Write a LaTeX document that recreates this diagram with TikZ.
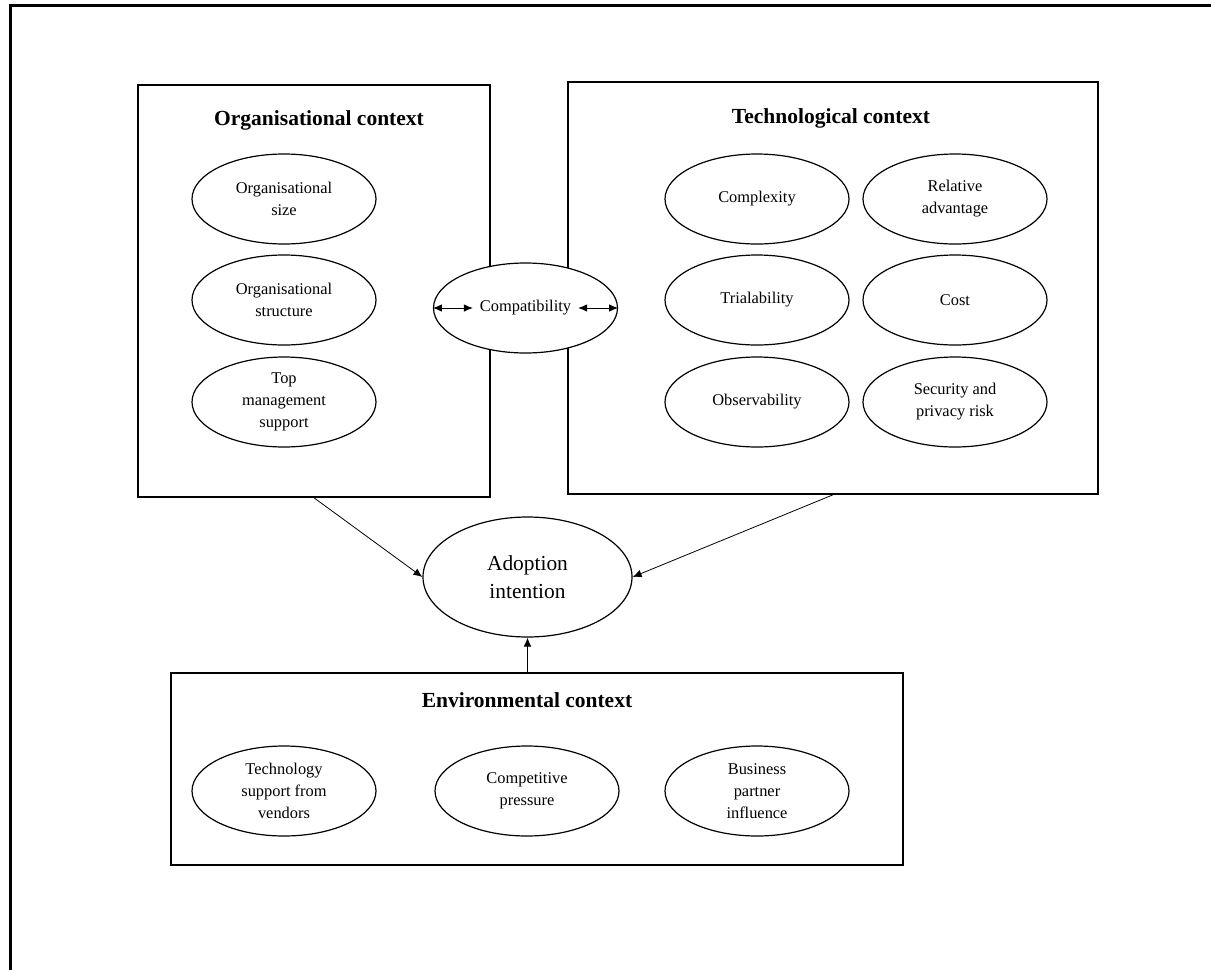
\documentclass[tikz,border=0pt]{standalone}
\usepackage{fontspec}
\setmainfont{Liberation Serif}
\usetikzlibrary{shapes.geometric,arrows.meta,positioning}

\begin{document}
\begin{tikzpicture}[x=0.5pt,y=-0.5pt,>={Latex[length=4.5pt,width=3.8pt]},
  ctxbox/.style={draw,line width=0.8pt,minimum height=206pt,inner sep=0pt},
  oval/.style={draw,ellipse,fill=white,line width=0.6pt,minimum width=92pt,minimum height=45pt,inner sep=0pt,align=center,font=\fontsize{8.2}{11}\selectfont},
  ctxtitle/.style={font=\fontsize{10.75}{13}\selectfont\bfseries},
  link/.style={->,line width=0.4pt}]
  \useasboundingbox (0,0) rectangle (1211,970);
  % cornice esterna (solo lato sinistro e superiore)
  \draw[line width=1.3pt] (10.5,970) -- (10.5,5.5) -- (1211,5.5);
  % riquadri dei contesti
  \node[ctxbox,minimum width=176pt] (org) at (314,291) {};
  \node[ctxbox,minimum width=265pt] (tech) at (833,288) {};
  \node[ctxbox,minimum width=366pt,minimum height=96pt] (env) at (537,769) {};
  \node[ctxtitle] (orgtitle) at (319,120) {Organisational context};
  \node[ctxtitle] (techtitle) at (831,118) {Technological context};
  \node[ctxtitle] (envtitle) at (527,700) {Environmental context};
  % fattori
  \foreach \n/\x/\y/\t in {osize/284/199/{Organisational\\size}, ostruct/284/300/{Organisational\\structure},
      otop/284/402/{Top\\management\\support}, tcompl/757/199/{Complexity}, trel/955/199/{Relative\\advantage},
      ttrial/757/300/{Trialability}, tcost/955/300/{Cost}, tobs/757/402/{Observability},
      tsec/955/402/{Security and\\privacy risk}, evend/284/791/{Technology\\support from\\vendors},
      ecomp/527/791/{Competitive\\pressure}, epart/757/791/{Business\\partner\\influence}}
     \node[oval] (\n) at (\x,\y) {\t};
  % compatibilita' a cavallo dei due riquadri
  \node[oval] (compat) at (525.5,308) {};
  \node[font=\fontsize{8.2}{11}\selectfont] (compattxt) at (compat) {Compatibility};
  \draw[<->,line width=0.5pt] (compat.west) -- (compattxt.west);
  \draw[<->,line width=0.5pt] (compattxt.east) -- (compat.east);
  % variabile dipendente
  \node[oval,minimum width=104.5pt,minimum height=60pt,font=\fontsize{10.7}{14}\selectfont] (adopt) at (527.5,577) {Adoption\\intention};
  \draw[link] (org.south) -- (adopt.west);
  \draw[link] (tech.south) -- (adopt.east);
  \draw[link] (env.north -| adopt.south) -- (adopt.south);
\end{tikzpicture}
\end{document}
